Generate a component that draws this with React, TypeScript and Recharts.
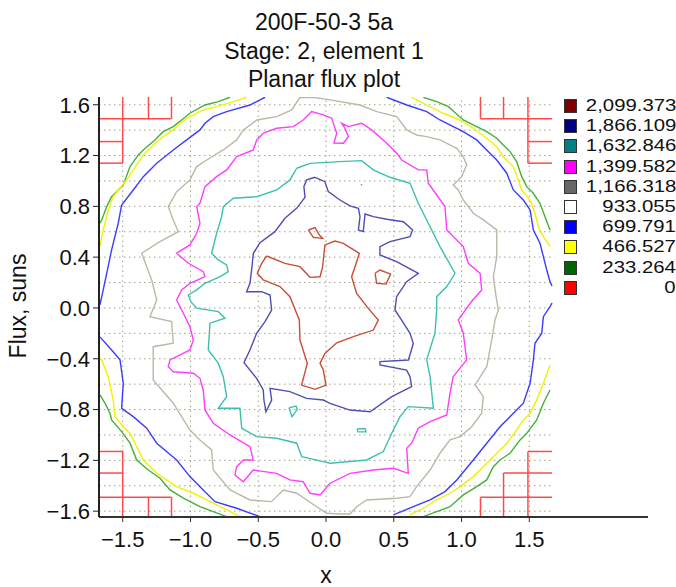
import React from 'react';
import { ComposedChart, Line, XAxis, YAxis } from 'recharts';

const LEVEL_LABELS = ['2,099.373', '1,866.109', '1,632.846', '1,399.582', '1,166.318', '933.055', '699.791', '466.527', '233.264', '0'];
const LEVEL_SWATCH = ['#800000', '#000080', '#008080', '#ff00ff', '#666666', '#ffffff', '#0000ff', '#ffff00', '#006400', '#ff0000'];

const X_TICKS = [-1.5, -1, -0.5, 0, 0.5, 1, 1.5];
const Y_TICKS = [-1.6, -1.2, -0.8, -0.4, 0, 0.4, 0.8, 1.2, 1.6];
const GRID_Y = [-1.6, -1.4, -1.2, -1, -0.8, -0.6, -0.4, -0.2, 0, 0.2, 0.4, 0.6, 0.8, 1, 1.2, 1.4, 1.6];

const X_MIN = -1.675;
const X_MAX = 2.376;
const GRID_X_MAX = 1.68;
const Y_MIN = -1.646;
const Y_MAX = 1.661;

// 2,099 level
const peak = [[-0.438,0.409],[-0.303,0.351],[-0.192,0.325],[-0.118,0.241],[-0.044,0.246],[-0.025,0.325],[-0.008,0.496],[0.066,0.527],[0.128,0.509],[0.246,0.43],[0.214,0.325],[0.189,0.246],[0.226,0.115],[0.312,-0.003],[0.386,-0.095],[0.349,-0.174],[0.202,-0.226],[0.079,-0.274],[-0.008,-0.358],[-0.044,-0.436],[-0.02,-0.489],[0,-0.607],[-0.081,-0.641],[-0.18,-0.607],[-0.138,-0.436],[-0.192,-0.253],[-0.197,-0.095],[-0.266,0.089],[-0.34,0.168],[-0.463,0.22],[-0.507,0.273],[-0.475,0.351],[-0.438,0.409]];
const peakIsleA = [[-0.13,0.614],[-0.081,0.632],[-0.049,0.574],[-0.025,0.548],[-0.094,0.556],[-0.13,0.614]];
const peakIsleB = [[0.362,0.273],[0.398,0.299],[0.477,0.267],[0.443,0.188],[0.374,0.194],[0.362,0.273]];

// 1,866 level
const navy = [[-0.081,1.029],[-0.008,0.994],[0.017,0.916],[0.103,0.85],[0.177,0.803],[0.239,0.784],[0.251,0.719],[0.239,0.614],[0.275,0.601],[0.288,0.74],[0.349,0.719],[0.448,0.698],[0.571,0.679],[0.639,0.614],[0.62,0.561],[0.472,0.522],[0.398,0.483],[0.398,0.417],[0.521,0.364],[0.681,0.273],[0.595,0.207],[0.521,0.089],[0.509,-0.016],[0.558,-0.095],[0.62,-0.2],[0.644,-0.279],[0.608,-0.41],[0.398,-0.423],[0.398,-0.449],[0.595,-0.489],[0.62,-0.541],[0.632,-0.62],[0.485,-0.699],[0.325,-0.817],[0.177,-0.804],[0.029,-0.751],[-0.02,-0.725],[-0.143,-0.712],[-0.266,-0.659],[-0.413,-0.633],[-0.401,-0.725],[-0.443,-0.817],[-0.458,-0.725],[-0.463,-0.646],[-0.512,-0.554],[-0.605,-0.431],[-0.561,-0.331],[-0.512,-0.2],[-0.45,-0.108],[-0.401,-0.016],[-0.413,0.102],[-0.475,0.128],[-0.586,0.128],[-0.561,0.194],[-0.549,0.299],[-0.536,0.43],[-0.487,0.514],[-0.377,0.601],[-0.303,0.706],[-0.217,0.784],[-0.155,0.871],[-0.163,0.955],[-0.143,1.008],[-0.081,1.029]];

// 1,633 level
const teal = [[-0.216,1.1],[-0.118,1.138],[0.103,1.152],[0.263,1.16],[0.349,1.087],[0.472,1.029],[0.62,0.982],[0.681,0.824],[0.755,0.667],[0.841,0.483],[0.952,0.273],[0.891,0.168],[0.817,0.089],[0.817,-0.016],[0.804,-0.199],[0.743,-0.409],[0.768,-0.541],[0.792,-0.79],[0.607,-0.777],[0.546,-0.856],[0.485,-0.987],[0.423,-1.131],[0.3,-1.197],[0.03,-1.223],[-0.02,-1.21],[-0.179,-1.171],[-0.216,-1.065],[-0.364,-1.026],[-0.511,-1.013],[-0.622,-0.947],[-0.635,-0.79],[-0.795,-0.79],[-0.733,-0.698],[-0.758,-0.541],[-0.795,-0.435],[-0.869,-0.331],[-0.856,-0.12],[-0.745,-0.081],[-0.795,-0.029],[-0.954,-0.002],[-0.996,0.047],[-1.016,0.102],[-0.954,0.142],[-0.893,0.194],[-0.782,0.246],[-0.721,0.286],[-0.733,0.339],[-0.795,0.378],[-0.844,0.431],[-0.807,0.588],[-0.77,0.719],[-0.758,0.798],[-0.684,0.864],[-0.511,0.876],[-0.364,0.929],[-0.266,1.008],[-0.216,1.1]];
const tealIsleA = [[-0.273,-0.787],[-0.221,-0.772],[-0.212,-0.799],[-0.251,-0.856],[-0.273,-0.787]];
const tealIsleB = [[0.229,-0.953],[0.288,-0.949],[0.295,-0.976],[0.236,-0.976],[0.229,-0.953]];
const tealDot = [[0.258,0.975],[0.266,0.965]];

// 1,400 level
const magenta = [[-0.463,1.376],[-0.364,1.415],[-0.241,1.428],[-0.168,1.48],[-0.106,1.546],[-0.02,1.52],[0.042,1.494],[0.079,1.376],[0.059,1.299],[0.128,1.297],[0.165,1.349],[0.14,1.415],[0.116,1.454],[0.165,1.428],[0.263,1.454],[0.337,1.402],[0.448,1.297],[0.522,1.218],[0.559,1.165],[0.681,1.087],[0.743,1.087],[0.755,0.982],[0.878,0.798],[0.891,0.614],[1.013,0.483],[1.05,0.352],[1.137,0.273],[1.149,0.142],[1.077,0.055],[0.976,-0.094],[1.013,-0.199],[1.038,-0.409],[0.939,-0.541],[0.915,-0.672],[0.891,-0.843],[0.768,-0.895],[0.681,-0.947],[0.632,-1.065],[0.596,-1.105],[0.607,-1.302],[0.497,-1.262],[0.349,-1.276],[0.177,-1.302],[0.03,-1.38],[-0.044,-1.472],[-0.118,-1.459],[-0.168,-1.368],[-0.266,-1.354],[-0.364,-1.302],[-0.537,-1.276],[-0.61,-1.368],[-0.672,-1.315],[-0.659,-1.25],[-0.61,-1.197],[-0.537,-1.197],[-0.561,-1.092],[-0.708,-1.0],[-0.832,-0.908],[-0.893,-0.803],[-0.906,-0.646],[-0.93,-0.554],[-0.979,-0.514],[-1.127,-0.502],[-1.164,-0.462],[-1.151,-0.409],[-1.004,-0.331],[-0.979,-0.252],[-1.004,-0.147],[-1.053,-0.042],[-1.102,0.063],[-1.065,0.142],[-1.004,0.194],[-0.893,0.246],[-0.906,0.286],[-1.016,0.352],[-1.102,0.431],[-1.004,0.496],[-0.954,0.588],[-0.93,0.667],[-0.954,0.798],[-0.93,0.824],[-0.893,0.955],[-0.807,1.034],[-0.733,1.087],[-0.659,1.191],[-0.537,1.244],[-0.511,1.323],[-0.463,1.376]];

// 1,166 level
const grey = [[-0.192,1.659],[-0.081,1.657],[0.03,1.638],[0.251,1.598],[0.374,1.546],[0.522,1.506],[0.596,1.402],[0.669,1.362],[0.743,1.349],[0.841,1.323],[0.965,1.257],[1.013,1.191],[1.038,1.126],[1.001,1.034],[0.939,0.969],[0.976,0.929],[1.013,0.85],[1.087,0.746],[1.161,0.693],[1.26,0.614],[1.26,0.404],[1.235,0.246],[1.255,0.089],[1.272,-0.016],[1.247,-0.094],[1.223,-0.252],[1.186,-0.462],[1.1,-0.606],[1.161,-0.698],[1.149,-0.829],[1.075,-0.935],[0.989,-1.013],[0.915,-1.039],[0.841,-1.144],[0.768,-1.276],[0.669,-1.407],[0.62,-1.486],[0.522,-1.498],[0.3,-1.512],[0.227,-1.565],[0.177,-1.622],[0.103,-1.622],[0.005,-1.617],[-0.069,-1.565],[-0.216,-1.459],[-0.315,-1.433],[-0.401,-1.525],[-0.561,-1.512],[-0.708,-1.433],[-0.832,-1.276],[-0.844,-1.118],[-0.93,-1.039],[-1.004,-0.961],[-1.127,-0.75],[-1.275,-0.567],[-1.275,-0.462],[-1.275,-0.305],[-1.127,-0.278],[-1.139,-0.108],[-1.299,-0.069],[-1.249,0.063],[-1.286,0.22],[-1.323,0.325],[-1.36,0.431],[-1.225,0.522],[-1.09,0.601],[-1.127,0.693],[-1.164,0.798],[-1.102,0.916],[-1.004,1.008],[-0.954,1.113],[-0.88,1.165],[-0.758,1.244],[-0.659,1.323],[-0.61,1.402],[-0.511,1.48],[-0.364,1.506],[-0.253,1.559],[-0.192,1.659]];

// 700 level (four corner arcs)
const blueTL = [[-0.45,1.659],[-0.561,1.598],[-0.733,1.546],[-0.832,1.506],[-0.893,1.454],[-0.93,1.402],[-1.028,1.323],[-1.127,1.244],[-1.249,1.139],[-1.348,1.034],[-1.422,0.929],[-1.508,0.811],[-1.533,0.667],[-1.582,0.457],[-1.618,0.273],[-1.644,0.142],[-1.668,0.024]];
const blueBL = [[-1.668,-0.228],[-1.582,-0.331],[-1.52,-0.409],[-1.496,-0.593],[-1.508,-0.79],[-1.422,-0.856],[-1.323,-0.947],[-1.249,-1.065],[-1.102,-1.197],[-1.004,-1.328],[-0.906,-1.433],[-0.819,-1.525],[-0.659,-1.577],[-0.487,-1.643]];
const blueTR = [[0.448,1.659],[0.596,1.598],[0.743,1.546],[0.841,1.48],[0.939,1.428],[1.013,1.388],[1.112,1.323],[1.186,1.244],[1.26,1.165],[1.334,1.061],[1.382,0.929],[1.456,0.85],[1.506,0.772],[1.53,0.614],[1.579,0.509],[1.604,0.404],[1.629,0.299],[1.653,0.207],[1.668,0.173]];
const blueBR = [[1.668,0.039],[1.653,0.01],[1.604,-0.069],[1.592,-0.199],[1.542,-0.278],[1.53,-0.409],[1.506,-0.593],[1.456,-0.75],[1.37,-0.843],[1.284,-0.935],[1.186,-1.065],[1.087,-1.197],[0.965,-1.354],[0.878,-1.446],[0.768,-1.512],[0.644,-1.565],[0.497,-1.63]];

// 466 level
const yellowTL = [[-0.585,1.659],[-0.684,1.624],[-0.807,1.585],[-0.906,1.559],[-1.004,1.506],[-1.077,1.454],[-1.127,1.402],[-1.201,1.349],[-1.275,1.283],[-1.348,1.205],[-1.422,1.087],[-1.471,1.008],[-1.533,0.929],[-1.57,0.876],[-1.607,0.772],[-1.644,0.614],[-1.668,0.488]];
const yellowBL = [[-1.668,-0.394],[-1.655,-0.409],[-1.607,-0.541],[-1.57,-0.724],[-1.557,-0.856],[-1.496,-0.935],[-1.446,-0.987],[-1.397,-1.092],[-1.348,-1.197],[-1.249,-1.302],[-1.102,-1.407],[-0.979,-1.459],[-0.88,-1.512],[-0.758,-1.577],[-0.635,-1.643]];
const yellowTR = [[0.632,1.659],[0.743,1.598],[0.866,1.533],[0.989,1.48],[1.087,1.415],[1.186,1.336],[1.26,1.27],[1.308,1.191],[1.382,1.113],[1.419,1.008],[1.444,0.929],[1.506,0.85],[1.542,0.746],[1.567,0.64],[1.604,0.561],[1.653,0.483]];
const yellowBR = [[1.653,-0.449],[1.604,-0.593],[1.555,-0.724],[1.506,-0.829],[1.456,-0.882],[1.407,-0.961],[1.334,-1.065],[1.26,-1.144],[1.186,-1.223],[1.087,-1.328],[0.989,-1.407],[0.915,-1.459],[0.817,-1.512],[0.718,-1.577],[0.62,-1.63]];

// 233 level
const greenTL = [[-0.708,1.659],[-0.795,1.624],[-0.893,1.598],[-1.004,1.533],[-1.065,1.48],[-1.127,1.428],[-1.201,1.388],[-1.262,1.323],[-1.348,1.244],[-1.385,1.205],[-1.446,1.113],[-1.496,0.969],[-1.582,0.876],[-1.618,0.798],[-1.655,0.693],[-1.668,0.667]];
const greenBL = [[-1.668,-0.685],[-1.631,-0.75],[-1.594,-0.829],[-1.582,-0.882],[-1.508,-0.974],[-1.446,-1.065],[-1.397,-1.197],[-1.311,-1.276],[-1.225,-1.341],[-1.151,-1.433],[-1.053,-1.498],[-0.93,-1.565],[-0.832,-1.604],[-0.733,-1.643]];
const greenTR = [[0.718,1.659],[0.817,1.624],[0.903,1.585],[1.013,1.48],[1.112,1.428],[1.186,1.388],[1.26,1.336],[1.308,1.283],[1.358,1.231],[1.407,1.152],[1.444,1.034],[1.481,0.955],[1.53,0.903],[1.579,0.824],[1.616,0.719],[1.653,0.614]];
const greenBR = [[1.653,-0.646],[1.604,-0.75],[1.555,-0.882],[1.481,-0.987],[1.432,-1.039],[1.358,-1.144],[1.284,-1.197],[1.235,-1.25],[1.186,-1.354],[1.112,-1.407],[1.013,-1.472],[0.915,-1.565],[0.817,-1.604],[0.718,-1.643]];

// zero level: stepped cell edges in the four corners [x1, y1, x2, y2]
const zeroEdges = [
  [-1.675, 1.49, -1.14, 1.49], [-1.5, 1.661, -1.5, 1.14], [-1.31, 1.661, -1.31, 1.49], [-1.14, 1.661, -1.14, 1.49],
  [-1.675, 1.31, -1.5, 1.31], [-1.675, 1.14, -1.5, 1.14],
  [1.14, 1.49, 1.668, 1.49], [1.14, 1.661, 1.14, 1.49], [1.31, 1.661, 1.31, 1.49], [1.49, 1.661, 1.49, 1.14],
  [1.49, 1.31, 1.668, 1.31], [1.49, 1.14, 1.668, 1.14],
  [-1.675, -1.13, -1.5, -1.13], [-1.675, -1.3, -1.5, -1.3], [-1.675, -1.49, -1.14, -1.49],
  [-1.5, -1.13, -1.5, -1.646], [-1.31, -1.49, -1.31, -1.646], [-1.14, -1.49, -1.14, -1.646],
  [1.49, -1.13, 1.668, -1.13], [1.49, -1.13, 1.49, -1.646], [1.31, -1.3, 1.668, -1.3],
  [1.31, -1.3, 1.31, -1.646], [1.14, -1.49, 1.668, -1.49], [1.14, -1.49, 1.14, -1.646],
];

const toPts = (a: number[][]) => a.map(([x, y]) => ({ x, y }));

const contours = [
  { c: '#44b03c', d: [greenTL, greenBL, greenTR, greenBR] },
  { c: '#f2f200', d: [yellowTL, yellowBL, yellowTR, yellowBR] },
  { c: '#3c3cff', d: [blueTL, blueBL, blueTR, blueBR] },
  { c: '#bcb8a6', d: [grey] },
  { c: '#ff3cff', d: [magenta] },
  { c: '#3cc0ae', d: [teal, tealIsleA, tealIsleB, tealDot] },
  { c: '#4e4eb4', d: [navy] },
  { c: '#c84e36', d: [peak, peakIsleA, peakIsleB] },
];

const FONT = '"Liberation Sans", Arial, sans-serif';
const fmt = (v: number) => v.toFixed(1).replace('-', '\u2212');

export default function App() {
  const gridLines: { x: number; y: number }[][] = [
    ...GRID_Y.map((y) => [{ x: X_MIN, y }, { x: GRID_X_MAX, y }]),
    ...X_TICKS.map((x) => [{ x, y: Y_MIN }, { x, y: Y_MAX }]),
  ];

  return (
    <div style={{ position: 'absolute', left: 0, top: 0, width: 676, height: 587, background: '#fff', fontFamily: FONT, color: '#111' }}>
      <div style={{ position: 'absolute', left: 0, width: 648, top: 8, textAlign: 'center', fontSize: 23, lineHeight: '28.7px' }}>
        <div>200F-50-3 5a</div>
        <div>Stage: 2, element 1</div>
        <div>Planar flux plot</div>
      </div>

      <ComposedChart width={676} height={587} margin={{ top: 97, right: 28, bottom: 0, left: 0 }}>
        <XAxis
          type="number"
          dataKey="x"
          domain={[X_MIN, X_MAX]}
          allowDataOverflow
          ticks={X_TICKS}
          tickFormatter={fmt}
          height={70}
          tickSize={5}
          tickMargin={9}
          axisLine={{ stroke: '#333', strokeWidth: 2 }}
          tickLine={{ stroke: '#333' }}
          tick={{ fontSize: 22, fill: '#111', fontFamily: FONT }}
        />
        <YAxis
          type="number"
          dataKey="y"
          domain={[Y_MIN, Y_MAX]}
          allowDataOverflow
          ticks={Y_TICKS}
          tickFormatter={fmt}
          width={99}
          tickSize={6}
          tickMargin={3}
          axisLine={{ stroke: '#222', strokeWidth: 2 }}
          tickLine={{ stroke: '#222' }}
          tick={{ fontSize: 22, fill: '#111', fontFamily: FONT }}
        />
        {gridLines.map((g, i) => (
          <Line key={`g${i}`} data={g} dataKey="y" stroke="#a3a08a" strokeWidth={1} strokeDasharray="1.5 3.5"
            dot={false} activeDot={false} isAnimationActive={false} />
        ))}
        {zeroEdges.map(([x1, y1, x2, y2], i) => (
          <Line key={`z${i}`} data={[{ x: x1, y: y1 }, { x: x2, y: y2 }]} dataKey="y" stroke="#ff4a4a" strokeWidth={1.5}
            dot={false} activeDot={false} isAnimationActive={false} />
        ))}
        {contours.map((lv, i) =>
          lv.d.map((seg, j) => (
            <Line key={`c${i}-${j}`} data={toPts(seg)} dataKey="y" type="linear" stroke={lv.c} strokeWidth={1.4}
              dot={false} activeDot={false} isAnimationActive={false} />
          ))
        )}
      </ComposedChart>

      <div style={{ position: 'absolute', left: 4, top: 306, width: 28, height: 0 }}>
        <div style={{ position: 'absolute', left: '50%', top: 0, transform: 'translate(-50%, -50%) rotate(-90deg)', whiteSpace: 'nowrap', fontSize: 23 }}>
          Flux, suns
        </div>
      </div>
      <div style={{ position: 'absolute', left: 296, width: 60, top: 562, textAlign: 'center', fontSize: 23 }}>x</div>

      <div style={{ position: 'absolute', left: 560, top: 95, width: 116 }}>
        {LEVEL_LABELS.map((lab, i) => (
          <div key={lab} style={{ position: 'relative', height: 20.2 }}>
            <span style={{ position: 'absolute', left: 4, top: 4, width: 11, height: 12, background: LEVEL_SWATCH[i], border: '1px solid #333' }} />
            <span style={{ position: 'absolute', right: 0, top: 0, fontSize: 17.4, lineHeight: '20px', whiteSpace: 'nowrap',
              transform: 'scaleX(1.17)', transformOrigin: 'right center' }}>{lab}</span>
          </div>
        ))}
      </div>
    </div>
  );
}
